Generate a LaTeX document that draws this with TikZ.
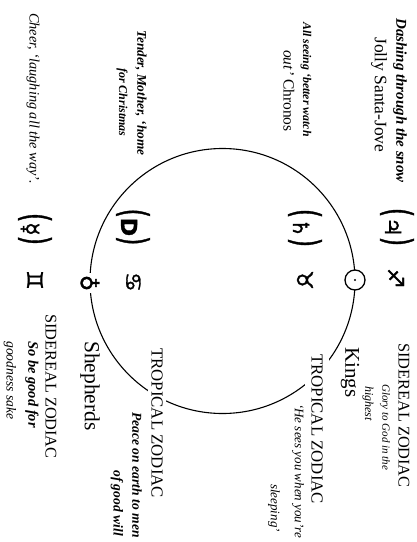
\documentclass[tikz,border=0pt]{standalone}
\usepackage{fontspec}
\setmainfont{Liberation Serif}
\newfontfamily\symf[FakeBold=1.5]{DejaVu Sans}
\newcommand\lpar{{\fontsize{38}{38}\selectfont\scalebox{0.62}[1]{(}}}
\newcommand\rpar{{\fontsize{38}{38}\selectfont\scalebox{0.62}[1]{)}}}
\begin{document}
\begin{tikzpicture}[x=1pt,y=-1pt,
  lbl/.style={rotate=-90, anchor=west, inner sep=0pt},
  txrm/.style={lbl, font=\fontsize{#1}{#1}\selectfont},
  txit/.style={lbl, font=\fontsize{#1}{#1}\selectfont\itshape},
  txbi/.style={lbl, font=\fontsize{#1}{#1}\selectfont\bfseries\itshape},
  sym/.style={rotate=-90, inner sep=0pt, font=\fontsize{#1}{#1}\selectfont\symf},
  cut/.style={fill=white, inner sep=3pt},
  ring/.style={line width=1.1pt}]
\useasboundingbox (0,0) rectangle (416,542);
\clip (0,0) rectangle (416,542);
\fill[white] (0,0) rectangle (416,542);

% the circle
\coordinate (cen) at (222.5,281);
\draw[ring] (cen) circle[radius=132.5pt];

% top texts
\node[txbi=15] (dash) at (400,18) {Dashing through the snow};
\node[txrm=17.5] (jolly) at (379,37) {Jolly Santa-Jove};
\node[txbi=11.8] (allsee) at (306,22) {All seeing ‘better watch};
\node[txrm=15.5] (chronos) at (289,50) {{\itshape out’} Chronos};
\node[txbi=13.3] (tender) at (141,30) {Tender, Mother, ‘home};
\node[txbi=12] (forx) at (122,68) {for Christmas};
\node[txit=14.3] (cheer) at (33,13) {Cheer, ‘laughing all the way’.};

% planets in brackets
\node[sym=22] (merc) at (35,229) {\lpar☿\rpar};
\node[sym=22] (moon) at (133,227) {\lpar{\bfseries D}\rpar};
\node[sym=22] (sat) at (305,228) {\lpar♄\rpar};
\node[sym=22] (jup) at (397,227) {\lpar♃\rpar};

% signs and bodies on the row
\node[sym=22] (gem) at (35,280) {♊};
\node[sym=22, fill=white, inner sep=1.5pt] (earth) at (90,283) {♁};
\node[sym=22] (can) at (133,282) {♋};
\node[sym=22] (tau) at (305,280) {♉};
\node[circle, draw, line width=1.3pt, fill=white, minimum size=20pt, inner sep=0pt] (sun) at (355,280) {};
\fill (sun.center) circle[radius=1.1pt];
\node[sym=22] (sag) at (396,278) {♐};

% right bottom
\node[txrm=16.3] (sid1) at (404,343) {SIDEREAL ZODIAC};
\node[txit=11] (glory) at (385,384) {Glory to God in the};
\node[txit=12] (highest) at (368,386) {highest};
\node[txrm=21] (kings) at (350,347) {Kings};
\node[txrm=16.8, cut, inner ysep=6pt] (trop1) at (317,351) {TROPICAL ZODIAC};
\node[txit=13] (sees) at (298,404) {‘He sees you when you’re};
\node[txit=13] (sleeping) at (274,484) {sleeping’};

% left bottom
\node[txrm=16.8, cut] (trop2) at (157,345) {TROPICAL ZODIAC};
\node[txbi=13.6] (peace) at (137,412) {Peace on earth to men};
\node[txbi=13.6] (goodwill) at (117,470) {of good will};
\node[txrm=21.5] (shep) at (90,341) {Shepherds};
\node[txrm=16.3] (sid2) at (51,314) {SIDEREAL ZODIAC};
\node[txbi=14.5] (sobe) at (32,341) {So be good for};
\node[txit=13.6] (goodness) at (10,341) {goodness sake};
\end{tikzpicture}
\end{document}
